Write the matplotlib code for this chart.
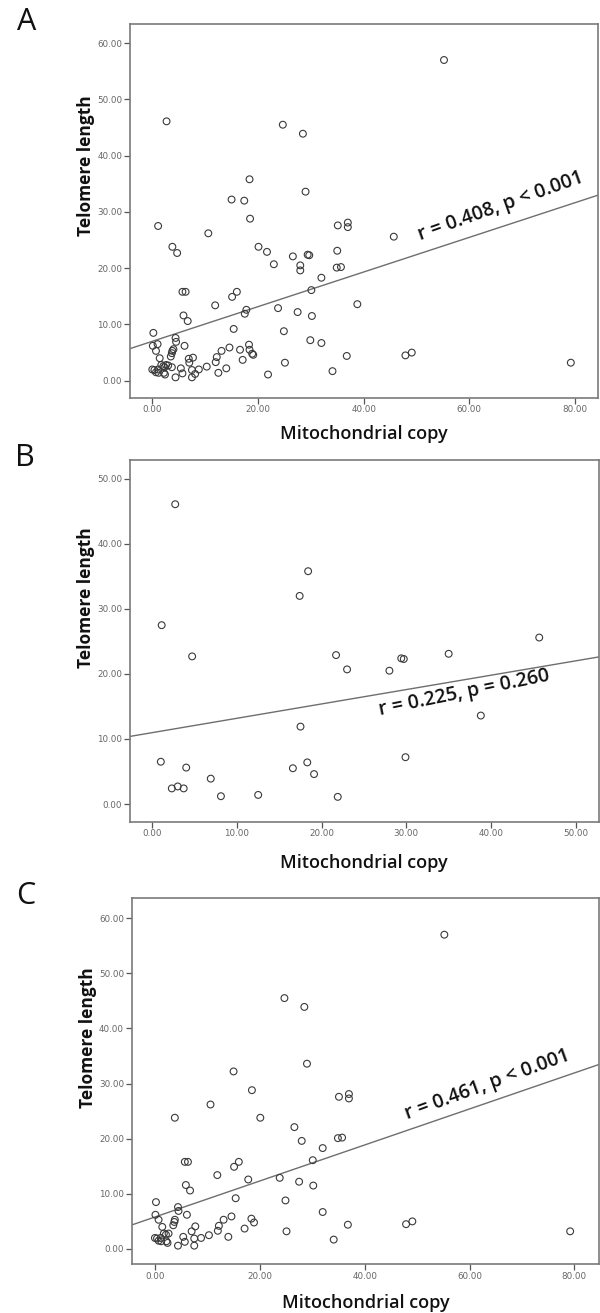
import matplotlib
matplotlib.use("Agg")
import matplotlib.pyplot as plt
import numpy as np

# ---- Data ----
# Group shown in panel B
b_mito = [2.7, 18.4, 17.4, 1.1, 4.7, 21.7, 23.0, 28.0, 29.4, 29.7, 35.0, 45.7,
          38.8, 17.5, 29.9, 18.3, 19.1, 16.6, 21.9, 12.5, 8.1, 6.9, 4.0, 1.0,
          2.3, 3.0, 3.7]
b_telo = [46.1, 35.8, 32.0, 27.5, 22.7, 22.9, 20.7, 20.5, 22.4, 22.3, 23.1, 25.6,
          13.6, 11.9, 7.2, 6.4, 4.6, 5.5, 1.1, 1.4, 1.2, 3.9, 5.6, 6.5,
          2.4, 2.7, 2.4]

# Group shown in panel C
c_mito = [55.2, 24.7, 28.5, 29.0, 15.0, 18.5, 10.6, 35.1, 37.0, 37.0, 3.8, 20.1,
          26.6, 34.9, 35.7, 28.0, 32.0, 30.1, 5.7, 6.3, 16.0, 15.1, 11.9, 17.8,
          23.8, 27.5, 30.2, 5.9, 6.7, 15.4, 24.9, 0.2, 4.4, 4.5, 32.0, 0.1,
          6.1, 0.7, 3.8, 3.7, 3.5, 18.4, 18.9, 14.6, 13.1, 12.2, 12.0, 17.1,
          7.7, 7.0, 1.4, 25.1, 36.8, 47.9, 49.1, 79.2, 34.1, 10.3, 8.8, 14.0,
          5.4, 5.7, 4.4, 7.5, 7.5, 0.0, 0.4, 0.7, 1.1, 1.7, 2.1, 2.6,
          2.4, 2.2, 1.2]
c_telo = [57.0, 45.5, 43.9, 33.6, 32.2, 28.8, 26.2, 27.6, 28.1, 27.3, 23.8, 23.8,
          22.1, 20.1, 20.2, 19.6, 18.3, 16.1, 15.8, 15.8, 15.8, 14.9, 13.4, 12.6,
          12.9, 12.2, 11.5, 11.6, 10.6, 9.2, 8.8, 8.5, 7.6, 6.9, 6.7, 6.2,
          6.2, 5.3, 5.3, 4.9, 4.3, 5.5, 4.8, 5.9, 5.3, 4.2, 3.3, 3.7,
          4.1, 3.2, 4.0, 3.2, 4.4, 4.5, 5.0, 3.2, 1.7, 2.5, 2.0, 2.2,
          2.2, 1.3, 0.6, 0.6, 1.9, 2.0, 1.9, 1.5, 2.0, 2.8, 2.6, 2.8,
          1.1, 1.4, 1.4]

# Panel A: all subjects
a_mito = b_mito + c_mito
a_telo = b_telo + c_telo

panel_letters = ["A", "B", "C"]
stat_labels = ["r = 0.408, p < 0.001", "r = 0.225, p = 0.260", "r = 0.461, p < 0.001"]
x_label = "Mitochondrial copy"
y_label = "Telomere length"

# ---- Layout ----
W, H = 600, 1313
fig = plt.figure(figsize=(W / 100, H / 100), dpi=100)

def frac_rect(left, top, right, bottom):
    return [left / W, (H - bottom) / H, (right - left) / W, (bottom - top) / H]

panels = [
    dict(x=a_mito, y=a_telo, rect=frac_rect(130, 24, 598.3, 397.7),
         xlim=(-4.22, 84.4), ylim=(-3.02, 63.4), xt=np.arange(0, 81, 20), yt=np.arange(0, 61, 10),
         txt_xy=(50.7, 25.0), txt_rot=19.6, xl_off=36, letter=(26.5, 21.5)),
    dict(x=b_mito, y=b_telo, rect=frac_rect(130, 460, 598.5, 821.7),
         xlim=(-2.64, 52.7), ylim=(-2.72, 52.9), xt=np.arange(0, 51, 10), yt=np.arange(0, 51, 10),
         txt_xy=(26.9, 13.7), txt_rot=11.5, xl_off=41, letter=(25, 457.5)),
    dict(x=c_mito, y=c_telo, rect=frac_rect(131.7, 898.3, 599, 1264.3),
         xlim=(-4.43, 84.7), ylim=(-2.78, 63.6), xt=np.arange(0, 81, 20), yt=np.arange(0, 61, 10),
         txt_xy=(48.2, 23.5), txt_rot=20.0, xl_off=39, letter=(26, 895.5)),
]

spine_col = "#7a7a7a"
tick_col = "#555555"

for i, p in enumerate(panels):
    ax = fig.add_axes(p["rect"])
    xs = np.array(p["x"], dtype=float)
    ys = np.array(p["y"], dtype=float)
    ax.scatter(xs, ys, s=24, facecolors="none", edgecolors="#3a3a3a", linewidths=0.8, zorder=3)
    slope, intercept = np.polyfit(xs, ys, 1)
    lx = np.array(p["xlim"])
    ax.plot(lx, intercept + slope * lx, color="#6e6e6e", lw=1.0, zorder=2)
    ax.set_xlim(*p["xlim"])
    ax.set_ylim(*p["ylim"])
    ax.set_xticks(p["xt"])
    ax.set_yticks(p["yt"])
    ax.set_xticklabels([f"{v:.2f}" for v in p["xt"]], family=["Liberation Sans Narrow", "DejaVu Sans"])
    ax.set_yticklabels([f"{v:.2f}" for v in p["yt"]], family=["Liberation Sans Narrow", "DejaVu Sans"])
    ax.tick_params(direction="out", length=4, width=0.9, color=tick_col, labelcolor="#666666",
                   labelsize=6.3, pad=1.5)
    for sp in ax.spines.values():
        sp.set_color(spine_col)
        sp.set_linewidth(1.2)
    ax.text(p["txt_xy"][0], p["txt_xy"][1], stat_labels[i], rotation=p["txt_rot"],
            rotation_mode="anchor", ha="left", va="baseline", fontsize=14,
            family=["Open Sans", "DejaVu Sans"], fontweight="semibold", color="#111111")
    bbox_h = p["rect"][3] * H
    ax.text(0.5, -p["xl_off"] / bbox_h, x_label, transform=ax.transAxes, ha="center", va="center",
            fontsize=13, family=["Open Sans", "DejaVu Sans"], fontweight="semibold", color="#111111")
    ax.text(-44 / (p["rect"][2] * W), 0.62, y_label, transform=ax.transAxes, ha="center", va="center",
            rotation=90, fontsize=12.5, family=["Open Sans", "DejaVu Sans"], fontweight="bold",
            color="#111111")
    lx_, ly_ = p["letter"]
    fig.text(lx_ / W, 1 - ly_ / H, panel_letters[i], ha="center", va="center", fontsize=22,
             family=["Open Sans", "DejaVu Sans"], fontweight="normal", color="#111111")

fig.savefig("out.png", dpi=100, facecolor="white")
